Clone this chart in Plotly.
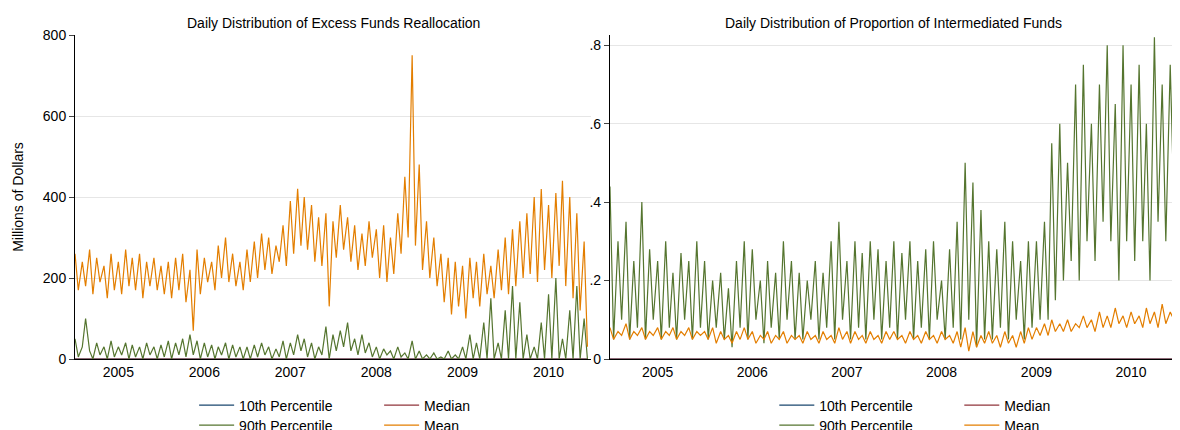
import pandas as pd
import plotly.graph_objects as go

# semi-monthly readings, Jul 2004 - Jun 2010
dates = pd.date_range("2004-07-01", periods=144, freq="SMS")
year_ticks = ["2005-01-01", "2006-01-01", "2007-01-01", "2008-01-01", "2009-01-01", "2010-01-01"]
year_labels = ["2005", "2006", "2007", "2008", "2009", "2010"]

excess_mean = [
    260, 170, 240, 180, 270, 160, 250, 190, 230, 150, 260, 170, 240, 160, 270, 180, 250, 170, 260, 150, 240, 180, 250, 170,
    230, 160, 240, 150, 250, 170, 260, 140, 220, 70, 270, 160, 250, 190, 240, 170, 280, 200, 300, 190, 260, 180, 240, 170,
    270, 190, 290, 200, 310, 220, 300, 210, 280, 240, 330, 230, 390, 260, 420, 280, 400, 270, 380, 240, 350, 230, 360, 130,
    340, 250, 380, 270, 350, 240, 330, 220, 310, 230, 340, 250, 320, 200, 330, 190, 300, 210, 360, 260, 450, 300, 750, 280,
    480, 220, 340, 200, 300, 180, 260, 140, 250, 110, 240, 130, 230, 100, 250, 150, 240, 130, 260, 160, 230, 150, 270, 170,
    300, 160, 320, 180, 340, 200, 360, 210, 400, 190, 420, 220, 380, 200, 410, 230, 440, 180, 400, 150, 360, 120, 290, 30,
]
excess_p90 = [
    50, 5, 30, 100, 20, 0, 40, 10, 30, 0, 45, 5, 30, 10, 40, 0, 35, 5, 30, 0, 40, 10, 30, 0,
    35, 5, 45, 0, 40, 10, 50, 5, 60, 10, 45, 0, 40, 5, 35, 0, 30, 10, 40, 0, 35, 5, 30, 0,
    30, 0, 35, 5, 40, 10, 30, 0, 25, 5, 45, 0, 40, 10, 60, 20, 50, 5, 40, 0, 30, 10, 80, 0,
    60, 20, 70, 30, 90, 20, 50, 10, 60, 15, 40, 5, 30, 0, 25, 10, 20, 0, 30, 5, 15, 0, 45, 0,
    20, 0, 10, 0, 15, 0, 5, 0, 20, 0, 10, 0, 30, 0, 60, 0, 40, 0, 90, 0, 150, 0, 40, 0,
    120, 0, 180, 0, 140, 0, 60, 0, 30, 0, 90, 0, 160, 0, 200, 0, 50, 0, 120, 0, 180, 0, 100, 0,
]
excess_p10 = [0] * 144
excess_median = [0] * 144

prop_p90 = [
    0.44, 0.05, 0.30, 0.10, 0.35, 0.05, 0.25, 0.08, 0.40, 0.05, 0.28, 0.10, 0.25, 0.05, 0.30, 0.08, 0.22, 0.05, 0.27, 0.10, 0.25, 0.05, 0.30, 0.08,
    0.25, 0.05, 0.20, 0.08, 0.22, 0.05, 0.18, 0.03, 0.25, 0.08, 0.30, 0.05, 0.28, 0.10, 0.20, 0.04, 0.25, 0.08, 0.22, 0.05, 0.30, 0.10, 0.25, 0.05,
    0.22, 0.05, 0.20, 0.10, 0.25, 0.05, 0.22, 0.08, 0.30, 0.05, 0.35, 0.10, 0.25, 0.05, 0.30, 0.08, 0.27, 0.05, 0.30, 0.10, 0.28, 0.05, 0.25, 0.08,
    0.30, 0.05, 0.27, 0.10, 0.30, 0.05, 0.25, 0.08, 0.28, 0.05, 0.30, 0.10, 0.20, 0.05, 0.28, 0.08, 0.35, 0.05, 0.50, 0.10, 0.45, 0.03, 0.38, 0.05,
    0.30, 0.05, 0.28, 0.08, 0.35, 0.05, 0.30, 0.10, 0.25, 0.05, 0.30, 0.08, 0.30, 0.10, 0.35, 0.10, 0.55, 0.15, 0.60, 0.20, 0.50, 0.25, 0.70, 0.20,
    0.75, 0.30, 0.60, 0.25, 0.70, 0.35, 0.80, 0.30, 0.65, 0.20, 0.80, 0.30, 0.70, 0.25, 0.75, 0.30, 0.60, 0.20, 0.82, 0.35, 0.70, 0.30, 0.75, 0.40,
]
prop_mean = [
    0.08, 0.05, 0.07, 0.06, 0.09, 0.05, 0.07, 0.06, 0.08, 0.05, 0.07, 0.06, 0.08, 0.05, 0.07, 0.06, 0.08, 0.05, 0.07, 0.06, 0.08, 0.05, 0.07, 0.06,
    0.07, 0.05, 0.08, 0.04, 0.07, 0.05, 0.06, 0.04, 0.07, 0.05, 0.08, 0.05, 0.07, 0.04, 0.06, 0.05, 0.07, 0.04, 0.06, 0.05, 0.07, 0.04, 0.06, 0.05,
    0.06, 0.04, 0.07, 0.05, 0.06, 0.04, 0.07, 0.05, 0.06, 0.04, 0.08, 0.05, 0.07, 0.04, 0.07, 0.05, 0.06, 0.04, 0.07, 0.05, 0.06, 0.04, 0.07, 0.05,
    0.07, 0.05, 0.06, 0.04, 0.07, 0.05, 0.06, 0.04, 0.07, 0.05, 0.06, 0.04, 0.07, 0.05, 0.06, 0.04, 0.07, 0.03, 0.08, 0.02, 0.07, 0.03, 0.06, 0.04,
    0.07, 0.04, 0.06, 0.03, 0.07, 0.04, 0.06, 0.03, 0.07, 0.04, 0.08, 0.05, 0.08, 0.06, 0.09, 0.06, 0.10, 0.07, 0.09, 0.07, 0.10, 0.07, 0.09, 0.08,
    0.11, 0.08, 0.10, 0.07, 0.12, 0.08, 0.11, 0.08, 0.13, 0.09, 0.11, 0.08, 0.12, 0.09, 0.11, 0.08, 0.13, 0.09, 0.12, 0.08, 0.14, 0.09, 0.12, 0.10,
]
prop_p10 = [0] * 144
prop_median = [0] * 144

BLUE, RED, GREEN, ORANGE = "#1a476f", "#90353b", "#55752f", "#e37e00"

fig = go.Figure()

def add_set(series, xa, ya, legends):
    names = ["10th Percentile", "Median", "90th Percentile", "Mean"]
    colors = [BLUE, RED, GREEN, ORANGE]
    for s, n, c, lg in zip(series, names, colors, legends):
        fig.add_trace(go.Scatter(x=dates, y=s, name=n, mode="lines", xaxis=xa, yaxis=ya,
                                 line=dict(color=c, width=1.2), legend=lg))

add_set([excess_p10, excess_median, excess_p90, excess_mean], "x", "y",
        ["legend", "legend", "legend2", "legend2"])
add_set([prop_p10, prop_median, prop_p90, prop_mean], "x2", "y2",
        ["legend3", "legend3", "legend4", "legend4"])

font = dict(family="Liberation Sans, Arial", size=14, color="black")
leg = dict(orientation="h", xanchor="left", yanchor="top", entrywidth=135,
           font=font, bgcolor="rgba(0,0,0,0)", itemwidth=35)
xcommon = dict(range=["2004-07-01", "2010-07-01"], tickvals=year_ticks, ticktext=year_labels,
               showgrid=False, showline=True, linecolor="black", ticks="", tickfont=font)
ycommon = dict(gridcolor="#e6e6e6", showline=True, linecolor="black", ticks="outside",
               ticklen=5, tickfont=font, zeroline=False)

fig.update_layout(
    width=1180, height=430, plot_bgcolor="white", paper_bgcolor="white",
    margin=dict(l=67, r=10, t=27, b=79, autoexpand=False), font=font,
    xaxis=dict(domain=[0, 0.468], anchor="y", **xcommon),
    xaxis2=dict(domain=[0.485, 1], anchor="y2", **xcommon),
    yaxis=dict(range=[0, 800], tickvals=[0, 200, 400, 600, 800], anchor="x",
               title=dict(text="Millions of Dollars", font=font), **ycommon),
    yaxis2=dict(range=[0, 0.826], tickvals=[0, 0.2, 0.4, 0.6, 0.8], ticktext=["0", ".2", ".4", ".6", ".8"],
                anchor="x2", **ycommon),
    legend=dict(x=0.108, y=-0.094, **leg),
    legend2=dict(x=0.108, y=-0.156, **leg),
    legend3=dict(x=0.634, y=-0.094, **leg),
    legend4=dict(x=0.634, y=-0.156, **leg),
    annotations=[
        dict(text="Daily Distribution of Excess Funds Reallocation", x=0.234, y=1.0, xref="paper",
             yref="paper", xanchor="center", yanchor="bottom", showarrow=False, font=font, yshift=2),
        dict(text="Daily Distribution of Proportion of Intermediated Funds", x=0.742, y=1.0, xref="paper",
             yref="paper", xanchor="center", yanchor="bottom", showarrow=False, font=font, yshift=2),
    ],
)

fig.write_html("out.html")
